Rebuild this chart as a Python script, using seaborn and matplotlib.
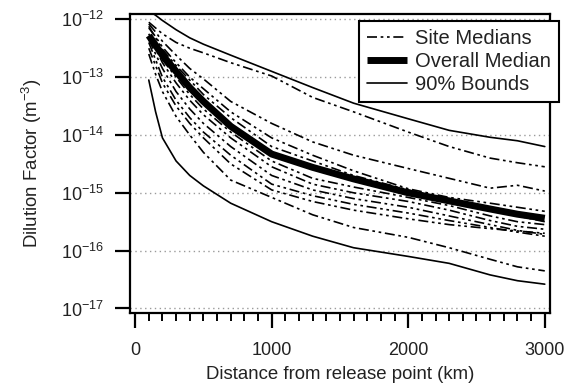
import numpy as np
import pandas as pd
import seaborn as sns
import matplotlib
matplotlib.use("Agg")
import matplotlib.pyplot as plt
from matplotlib.lines import Line2D
from matplotlib.ticker import MultipleLocator, NullLocator, FixedLocator

# Distance from release point (km)
distance_km = [100, 150, 200, 300, 400, 500, 700, 1000, 1300, 1600, 2000, 2300, 2600, 2800, 3000]

# log10 of dilution factor (m^-3)
overall_median = [-12.28, -12.45, -12.62, -12.90, -13.18, -13.42, -13.85, -14.33, -14.56, -14.76, -15.00, -15.14, -15.28, -15.37, -15.44]
upper_bound = [-11.85, -11.93, -12.02, -12.18, -12.32, -12.43, -12.62, -12.90, -13.18, -13.45, -13.72, -13.92, -14.04, -14.10, -14.20]
lower_bound = [-13.05, -13.60, -14.05, -14.45, -14.70, -14.88, -15.18, -15.50, -15.75, -15.95, -16.10, -16.22, -16.42, -16.52, -16.58]

site_a = [-12.05, -12.15, -12.25, -12.40, -12.50, -12.58, -12.75, -12.98, -13.35, -13.60, -13.95, -14.20, -14.40, -14.48, -14.55]
site_b = [-12.08, -12.22, -12.38, -12.62, -12.85, -13.03, -13.42, -13.80, -14.12, -14.35, -14.58, -14.75, -14.92, -14.87, -14.97]
site_c = [-12.15, -12.30, -12.48, -12.75, -13.00, -13.20, -13.60, -14.05, -14.35, -14.62, -14.93, -15.08, -15.18, -15.25, -15.32]
site_d = [-12.12, -12.32, -12.52, -12.80, -13.05, -13.30, -13.70, -14.20, -14.45, -14.70, -14.95, -15.12, -15.30, -15.40, -15.50]
site_e = [-12.30, -12.50, -12.70, -13.00, -13.30, -13.55, -13.95, -14.45, -14.75, -14.90, -15.08, -15.22, -15.40, -15.50, -15.55]
site_f = [-12.25, -12.50, -12.75, -13.10, -13.40, -13.65, -14.05, -14.55, -14.85, -15.00, -15.15, -15.30, -15.48, -15.58, -15.63]
site_g = [-12.35, -12.60, -12.85, -13.25, -13.55, -13.80, -14.20, -14.70, -14.95, -15.10, -15.25, -15.40, -15.55, -15.65, -15.72]
site_h = [-12.40, -12.70, -13.00, -13.40, -13.70, -13.95, -14.35, -14.85, -15.05, -15.20, -15.35, -15.48, -15.60, -15.68, -15.75]
site_i = [-12.50, -12.80, -13.10, -13.50, -13.80, -14.05, -14.50, -14.95, -15.15, -15.30, -15.45, -15.55, -15.62, -15.66, -15.70]
site_j = [-12.60, -12.95, -13.25, -13.68, -14.00, -14.30, -14.78, -15.08, -15.38, -15.60, -15.77, -15.95, -16.15, -16.28, -16.35]

site_medians = {
    "A": site_a, "B": site_b, "C": site_c, "D": site_d, "E": site_e,
    "F": site_f, "G": site_g, "H": site_h, "I": site_i, "J": site_j,
}

# Decade ticks on the dilution axis
y_decades = [-17, -16, -15, -14, -13, -12]

site_df = pd.concat(
    [pd.DataFrame({"distance": distance_km, "dilution": np.power(10.0, vals), "site": name})
     for name, vals in site_medians.items()],
    ignore_index=True,
)
median_df = pd.DataFrame({"distance": distance_km, "dilution": np.power(10.0, overall_median)})
upper_df = pd.DataFrame({"distance": distance_km, "dilution": np.power(10.0, upper_bound)})
lower_df = pd.DataFrame({"distance": distance_km, "dilution": np.power(10.0, lower_bound)})

sns.set_style("ticks")
plt.rcParams["font.family"] = ["Liberation Sans", "DejaVu Sans"]
plt.rcParams["mathtext.fontset"] = "custom"
plt.rcParams["mathtext.rm"] = "Liberation Sans"
plt.rcParams["mathtext.it"] = "Liberation Sans:italic"
plt.rcParams["mathtext.default"] = "regular"

fig = plt.figure(figsize=(5.68, 3.89), dpi=100)
ax = fig.add_axes([0.229, 0.195, 0.739, 0.769])

site_style = (0, (6, 2.2, 1.6, 2.2, 1.6, 2.2))

sns.lineplot(data=site_df, x="distance", y="dilution", units="site", estimator=None,
             color="black", linewidth=1.2, linestyle=site_style, ax=ax, legend=False)
sns.lineplot(data=upper_df, x="distance", y="dilution", color="black", linewidth=1.2,
             ax=ax, legend=False)
sns.lineplot(data=lower_df, x="distance", y="dilution", color="black", linewidth=1.2,
             ax=ax, legend=False)
sns.lineplot(data=median_df, x="distance", y="dilution", color="black", linewidth=5.0,
             ax=ax, legend=False, solid_capstyle="butt")

ax.set_yscale("log")
ax.set_xlim(-37, 3037)
ax.set_ylim(10 ** -17.081, 10 ** -11.908)

ax.xaxis.set_major_locator(MultipleLocator(1000))
ax.xaxis.set_minor_locator(MultipleLocator(100))
ax.yaxis.set_major_locator(FixedLocator([10.0 ** d for d in y_decades]))
ax.yaxis.set_minor_locator(NullLocator())

ax.grid(True, axis="y", which="major", color="#9a9a9a", linestyle=(0, (1, 2.5)), linewidth=1.0)
ax.grid(False, axis="x")

for side in ["top", "right", "left", "bottom"]:
    ax.spines[side].set_visible(True)
    ax.spines[side].set_color("black")
    ax.spines[side].set_linewidth(1.6)

ax.tick_params(axis="both", which="major", direction="out", length=11, width=1.6,
               labelsize=13, colors="black", labelcolor="#222222")
ax.tick_params(axis="x", which="major", pad=10)
ax.tick_params(axis="y", which="major", pad=8)
ax.tick_params(axis="x", which="minor", direction="out", length=6, width=1.4, colors="black")

ax.set_xlabel("Distance from release point (km)", fontsize=13.4, color="#222222", labelpad=5)
ax.set_ylabel("Dilution Factor (m$^{-3}$)", fontsize=13.4, color="#222222", labelpad=12)

handles = [
    Line2D([], [], color="black", linewidth=1.2, linestyle=site_style),
    Line2D([], [], color="black", linewidth=5.0, solid_capstyle="butt"),
    Line2D([], [], color="black", linewidth=1.2),
]
labels = ["Site Medians", "Overall Median", "90% Bounds"]
leg = ax.legend(handles, labels, loc="upper right", bbox_to_anchor=(559 / 568, 1 - 21 / 389),
                bbox_transform=fig.transFigure, borderaxespad=0, fancybox=False, frameon=True,
                fontsize=14.5, handlelength=2.0, handletextpad=0.4, labelspacing=0.2,
                borderpad=0.4)
leg.get_frame().set_edgecolor("black")
leg.get_frame().set_linewidth(1.5)
leg.get_frame().set_facecolor("white")
leg.get_frame().set_alpha(1)
for t in leg.get_texts():
    t.set_color("#222222")

fig.savefig("out.png", dpi=100)
